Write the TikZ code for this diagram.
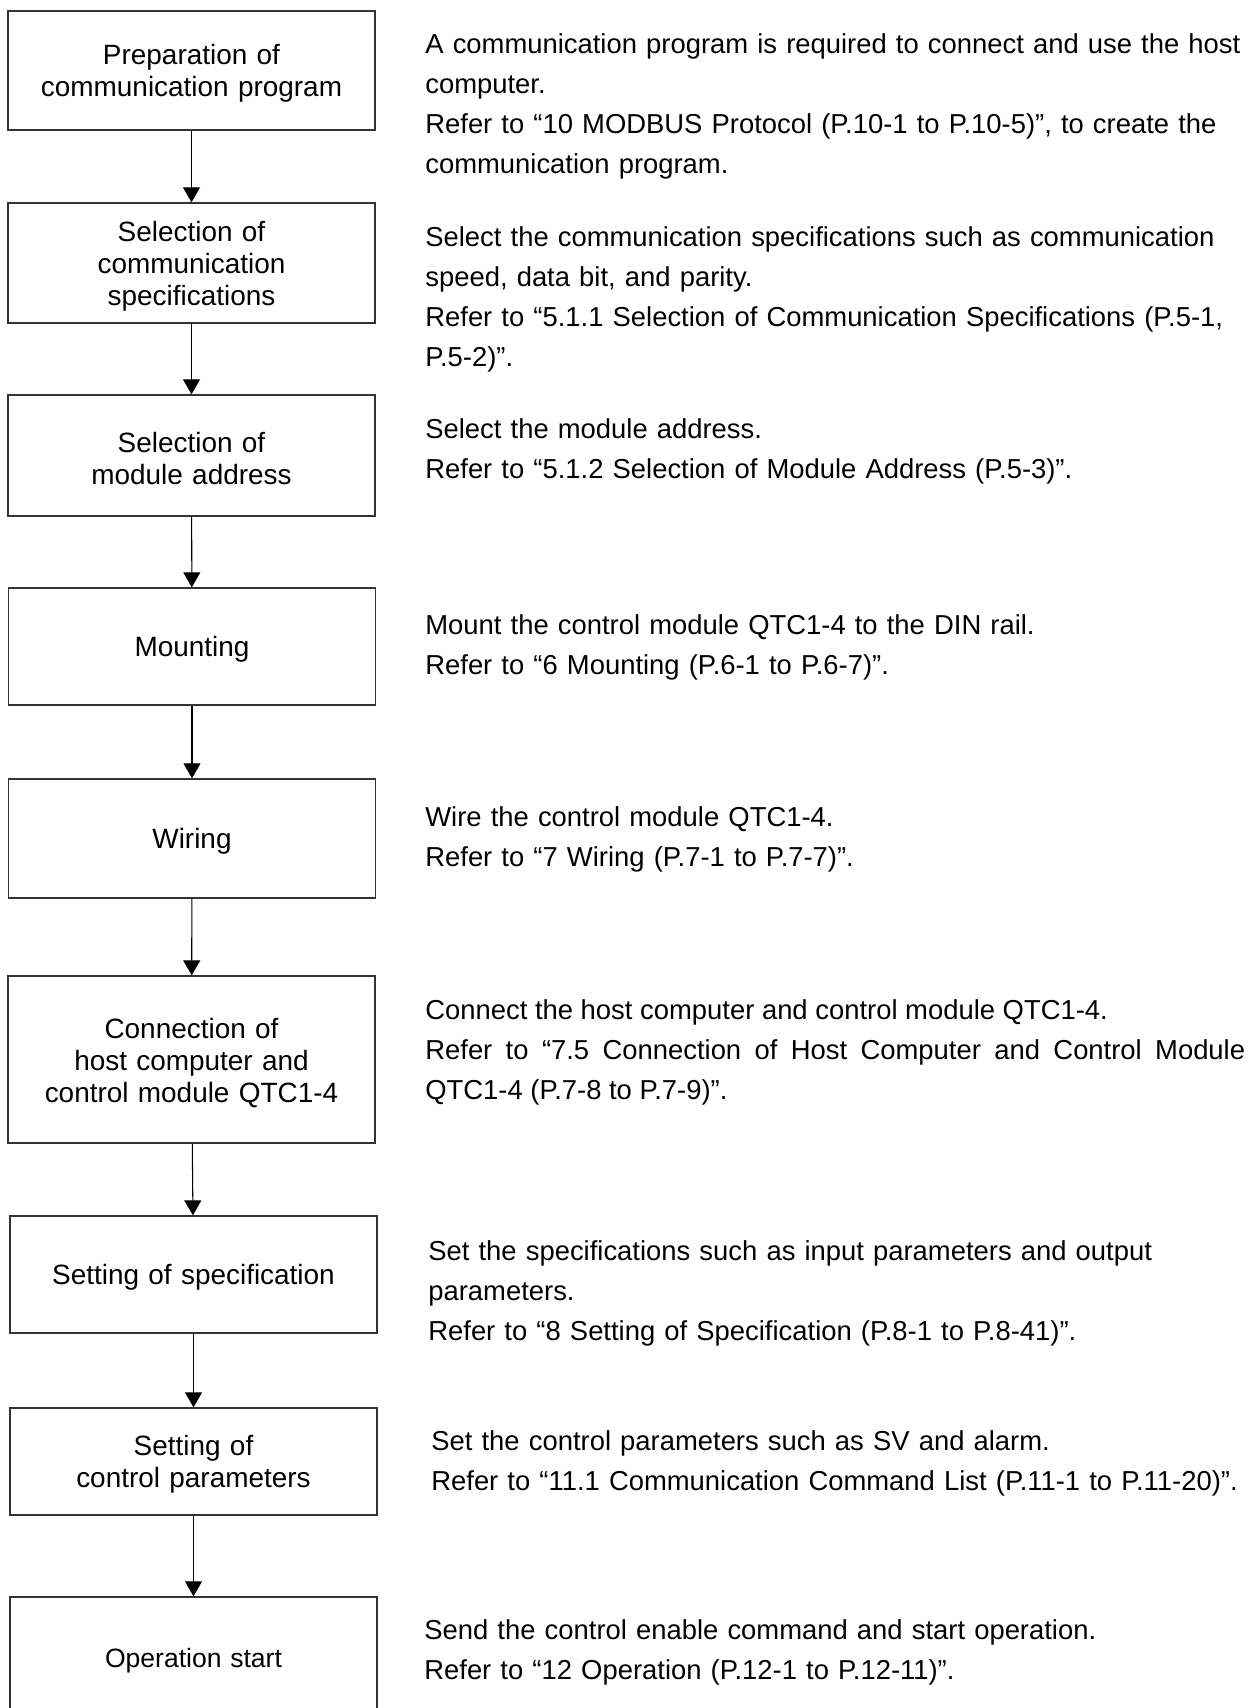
\documentclass[tikz,border=0pt]{standalone}
\usepackage{fontspec}
\setmainfont{Liberation Sans}
\usetikzlibrary{arrows.meta}

\begin{document}
\begin{tikzpicture}[x=0.02cm, y=-0.02cm,
    stepbox/.style={draw=black!80, line width=0.8pt, minimum width=7.34cm,
        text width=7.2cm, inner sep=0pt, align=center,
        font=\fontsize{15.9pt}{18.2pt}\selectfont,
        execute at begin node={\rule{0pt}{15pt}}},
    note/.style={anchor=base west, inner sep=0pt, text width=17cm, align=left,
        font=\fontsize{15.6pt}{22.8pt}\selectfont},
    flow/.style={line width=0.6pt, -{Triangle[length=0.3cm, width=0.34cm]}}]
    % page frame
    \useasboundingbox (0,0) rectangle (1256,1708);
    \clip (0,0) rectangle (1256,1708);

    % ; procedure steps ;
    \node[stepbox, minimum height=2.38cm] (prep)  at (191.5,70.5)  {Preparation of\\communication program};
    \node[stepbox, minimum height=2.40cm] (spec)  at (191.5,263)   {Selection of\\communication\\specifications};
    \node[stepbox, minimum height=2.42cm] (addr)  at (191.5,455.5) {Selection of\\module address};
    \node[stepbox, minimum height=2.34cm] (mount) at (192,646.5)   {Mounting};
    \node[stepbox, minimum height=2.38cm] (wire)  at (192,838.5)   {Wiring};
    \node[stepbox, minimum height=3.34cm] (conn)  at (191.5,1059.5) {Connection of\\host computer and\\control module QTC1-4};
    \node[stepbox, minimum height=2.34cm] (setsp) at (193.5,1274.5) {Setting of specification};
    \node[stepbox, minimum height=2.14cm] (setcp) at (193.5,1461.5) {Setting of\\control parameters};
    \node[stepbox, minimum height=2.40cm, font=\fontsize{15.1pt}{18pt}\selectfont]
        (start) at (193.5,1657) {Operation start};

    % arrows between steps
    \draw[flow] (prep)  -- (spec);
    \draw[flow] (spec)  -- (addr);
    \draw[flow] (addr)  -- (mount);
    \draw[flow] (mount) -- (wire);
    \draw[flow] (wire)  -- (conn);
    \draw[flow] (conn)  -- (setsp);
    \draw[flow] (setsp) -- (setcp);
    \draw[flow] (setcp) -- (start);

    % ; explanations on the right ;
    \node[note] (prepnote) at (425,53.8) {A communication program is required to connect and use the host\\computer.\\Refer to “10 MODBUS Protocol (P.10-1 to P.10-5)”, to create the\\communication program.};
    \node[note] (specnote) at (425,246.6) {Select the communication specifications such as communication\\speed, data bit, and parity.\\Refer to “5.1.1 Selection of Communication Specifications (P.5-1,\\P.5-2)”.};
    \node[note] (addrnote) at (425,438.2) {Select the module address.\\Refer to “5.1.2 Selection of Module Address (P.5-3)”.};
    \node[note] (mountnote) at (425,634.2) {Mount the control module QTC1-4 to the DIN rail.\\Refer to “6 Mounting (P.6-1 to P.6-7)”.};
    \node[note] (wirenote) at (425,826.2) {Wire the control module QTC1-4.\\Refer to “7 Wiring (P.7-1 to P.7-7)”.};
    \node[note, text width=16.4cm, align=justify] (connnote) at (425,1019.2) {Connect the host computer and control module QTC1-4.\\Refer to “7.5 Connection of Host Computer and Control Module QTC1-4 (P.7-8 to P.7-9)”.};
    \node[note] (setspnote) at (428,1260.7) {Set the specifications such as input parameters and output\\parameters.\\Refer to “8 Setting of Specification (P.8-1 to P.8-41)”.};
    \node[note] (setcpnote) at (431,1450.2) {Set the control parameters such as SV and alarm.\\Refer to “11.1 Communication Command List (P.11-1 to P.11-20)”.};
    \node[note] (startnote) at (424,1639.8) {Send the control enable command and start operation.\\Refer to “12 Operation (P.12-1 to P.12-11)”.};
\end{tikzpicture}
\end{document}
